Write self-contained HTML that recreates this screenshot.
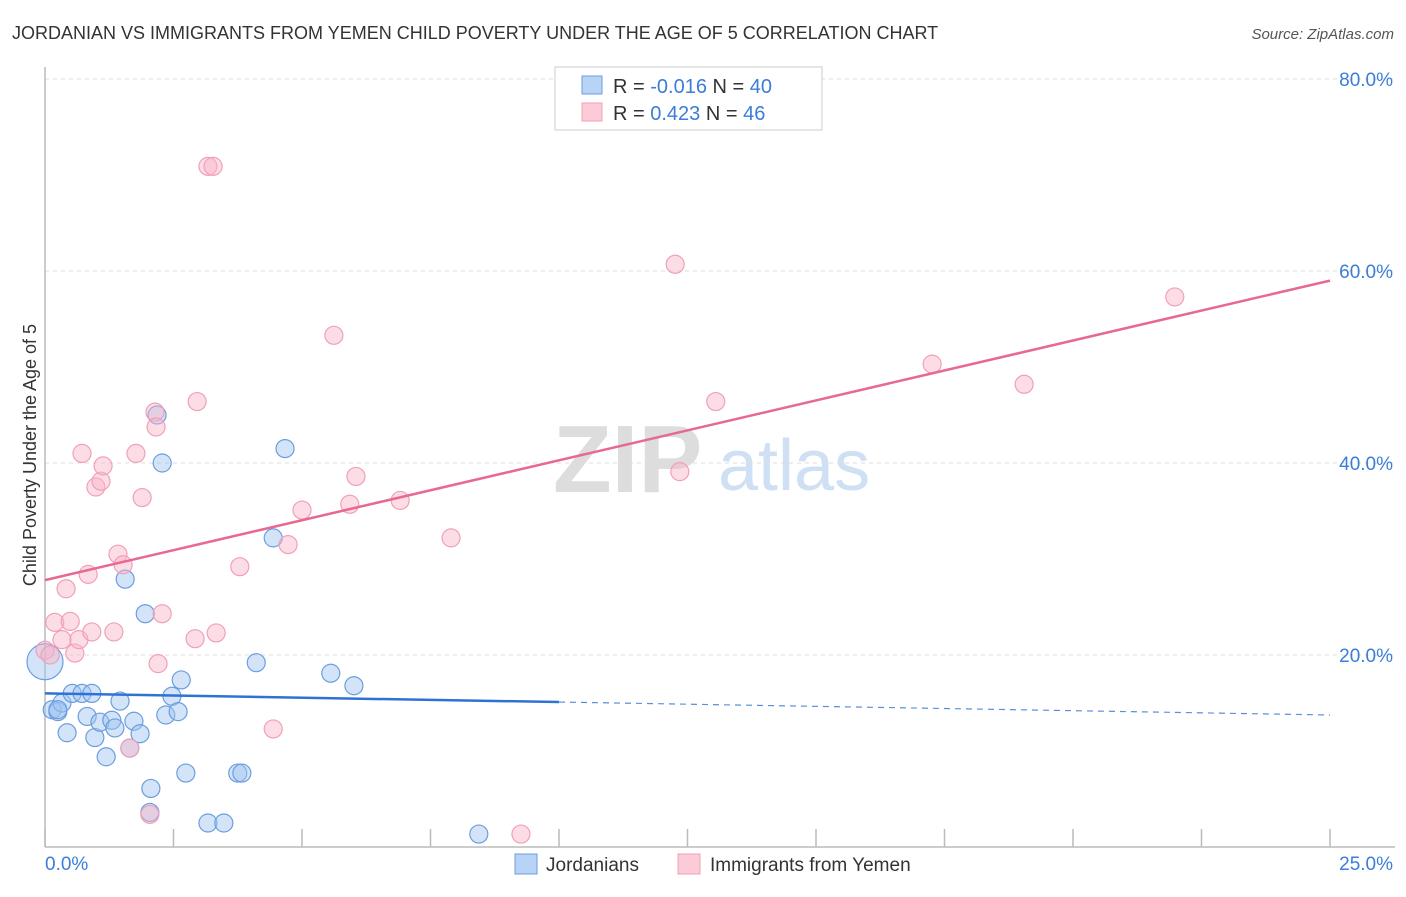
<!DOCTYPE html>
<html><head><meta charset="utf-8"><style>
body{margin:0;background:#fff;font-family:"Liberation Sans",sans-serif}
svg text{font-family:"Liberation Sans",sans-serif}
</style></head><body>
<svg id="chart" width="1406" height="892" xmlns="http://www.w3.org/2000/svg">
<text x="12" y="39" font-size="18" fill="#333">JORDANIAN VS IMMIGRANTS FROM YEMEN CHILD POVERTY UNDER THE AGE OF 5 CORRELATION CHART</text>
<text x="1394" y="39" font-size="15" fill="#555" font-style="italic" text-anchor="end">Source: ZipAtlas.com</text>
<g>
<text x="553" y="492" font-size="96" fill="#ddd" font-family="Liberation Serif" font-weight="bold">ZIP</text>
<text x="718" y="490" font-size="72" fill="#cfe0f5">atlas</text>
</g>
<g id="grid"></g>
<g id="axes"></g>
<g id="marks"></g>
<text x="36" y="455" font-size="18" fill="#333" text-anchor="middle" transform="rotate(-90 36 455)">Child Poverty Under the Age of 5</text>
<g>
<rect x="555" y="67" width="267" height="63" fill="#fff" stroke="#ccc"/>
<rect x="582" y="76" width="20" height="18" fill="#b8d3f5" stroke="#6a9ee0"/>
<rect x="582" y="103" width="20" height="18" fill="#fbcbd8" stroke="#f0a0b8"/>
<text x="613" y="93" font-size="20" fill="#333">R = <tspan fill="#3b7dd8">-0.016</tspan>   N = <tspan fill="#3b7dd8">40</tspan></text>
<text x="613" y="120" font-size="20" fill="#333">R =  <tspan fill="#3b7dd8"> 0.423</tspan>   N = <tspan fill="#3b7dd8">46</tspan></text>
</g>
<g>
<rect x="515" y="854" width="22" height="20" fill="#b8d3f5" stroke="#6a9ee0"/>
<text x="546" y="871" font-size="19" fill="#333">Jordanians</text>
<rect x="678" y="854" width="22" height="20" fill="#fbcbd8" stroke="#f0a0b8"/>
<text x="710" y="871" font-size="19" fill="#333">Immigrants from Yemen</text>
</g>
</svg>
<script>
const xTicks=[0,2.5,5,7.5,10,12.5,15,17.5,20,22.5,25];
const yTicks=[20,40,60,80];
const yTickLabels=["20.0%","40.0%","60.0%","80.0%"];
const xTickLabels=["0.0%","25.0%"];
const blueX=[0,0.14,0.25,0.33,0.43,0.53,0.72,0.82,0.91,0.97,1.07,1.19,1.30,1.36,1.46,1.56,1.65,1.73,1.85,1.95,2.06,2.04,2.18,2.28,2.35,2.47,2.59,2.65,2.74,3.17,3.48,3.75,3.83,4.11,4.44,4.67,5.56,6.01,8.44,0.25];
const blueY=[19.3,14.3,14.1,15.0,11.9,16.0,16.0,13.6,16.0,11.4,13.0,9.4,13.2,12.4,15.2,27.9,10.3,13.1,11.8,24.3,6.1,3.6,45.0,40.0,13.75,15.7,14.1,17.4,7.7,2.5,2.5,7.7,7.7,19.2,32.2,41.5,18.1,16.8,1.35,14.3];
const pinkX=[0,0.10,0.19,0.33,0.41,0.49,0.58,0.66,0.72,0.84,0.91,0.99,1.09,1.13,1.34,1.42,1.52,1.65,1.77,1.89,2.04,2.14,2.16,2.20,2.28,2.92,2.96,3.17,3.27,3.33,3.79,4.44,4.73,5.00,5.62,5.93,6.05,6.91,7.90,9.26,12.26,12.35,13.05,17.26,19.05,21.98];
const pinkY=[20.5,20.0,23.4,21.6,26.9,23.5,20.2,21.6,41.0,28.4,22.4,37.5,38.1,39.7,22.4,30.5,29.4,10.3,41.0,36.4,3.4,45.3,43.75,19.1,24.3,21.7,46.4,70.9,70.9,22.3,29.2,12.3,31.5,35.1,53.3,35.7,38.6,36.1,32.2,1.35,60.7,39.1,46.4,50.3,48.2,57.3];
const blueTrend=[16.0,13.75]; const blueSolidEnd=10;
const pinkTrend=[27.8,59.0];
const X=v=>45+v/25*1285, Y=v=>847-v*9.6;
const NS="http://www.w3.org/2000/svg";
function mk(p,t,a){const e=document.createElementNS(NS,t);for(const k in a)e.setAttribute(k,a[k]);p.appendChild(e);return e;}
const grid=document.getElementById('grid'),axes=document.getElementById('axes'),marks=document.getElementById('marks');
yTicks.forEach((v,i)=>{
 const l=mk(grid,'line',{x1:45,x2:1395,y1:Y(v),y2:Y(v),stroke:'#ddd','stroke-dasharray':'4 4'});
 
 
 const t=mk(axes,'text',{x:1393,y:Y(v)+7,'font-size':19,fill:'#3b7dd8','text-anchor':'end'});t.textContent=yTickLabels[i];
 
 
});
mk(grid,'line',{x1:45,x2:1395,y1:Y(80)-3,y2:Y(80)-3,stroke:'#fff'});
const ax=mk(axes,'line',{x1:45,x2:1395,y1:847,y2:847,stroke:'#bbb','stroke-width':1.5});


const ay=mk(axes,'line',{x1:45,x2:45,y1:67,y2:847,stroke:'#bbb','stroke-width':1.5});


xTicks.forEach(v=>{const t=mk(axes,'line',{x1:X(v),x2:X(v),y1:829,y2:847,stroke:'#bbb','stroke-width':1.5});
 
 });
[[0,'start',45],[25,'end',1393]].forEach((d,i)=>{const t=mk(axes,'text',{x:d[2],y:870,'font-size':19,fill:'#3b7dd8','text-anchor':d[1]});t.textContent=xTickLabels[i];
 
 });
blueX.forEach((x,i)=>{const c=mk(marks,'circle',{cx:X(x),cy:Y(blueY[i]),r:i==0?18:9,fill:'rgba(160,196,240,0.45)',stroke:'#6a9ee0','stroke-width':1.2});
 
 });
pinkX.forEach((x,i)=>{const c=mk(marks,'circle',{cx:X(x),cy:Y(pinkY[i]),r:9,fill:'rgba(248,180,200,0.45)',stroke:'#f0a0b8','stroke-width':1.2});
 
 });
const by=x=>blueTrend[0]+(blueTrend[1]-blueTrend[0])*x/25;
const b1=mk(marks,'line',{x1:X(0),y1:Y(by(0)),x2:X(blueSolidEnd),y2:Y(by(blueSolidEnd)),stroke:'#2f72d6','stroke-width':2.5});


const b2=mk(marks,'line',{x1:X(blueSolidEnd),y1:Y(by(blueSolidEnd)),x2:X(25),y2:Y(by(25)),stroke:'#5a8fdc','stroke-width':1.2,'stroke-dasharray':'6 5'});


const p=mk(marks,'line',{x1:X(0),y1:Y(pinkTrend[0]),x2:X(25),y2:Y(pinkTrend[1]),stroke:'#e8698f','stroke-width':2.5});


</script>
</body></html>
